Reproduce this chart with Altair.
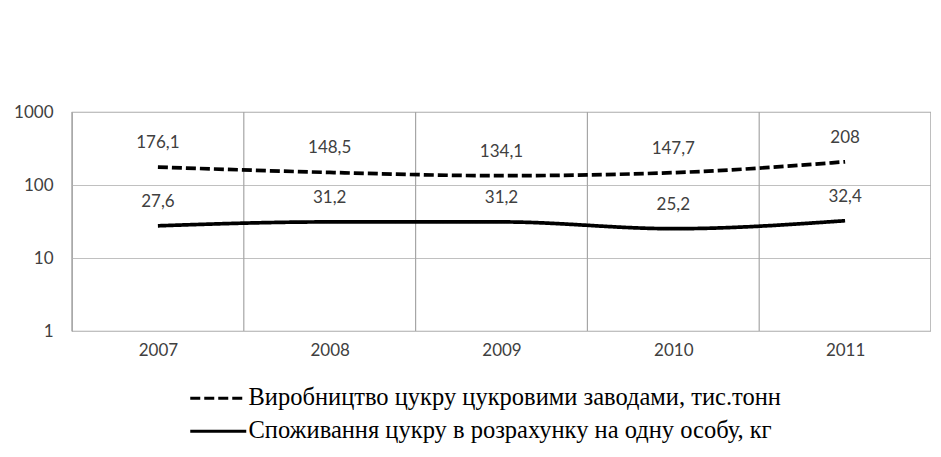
import altair as alt
import pandas as pd

years = [2007, 2008, 2009, 2010, 2011]
production = [176.1, 148.5, 134.1, 147.7, 208]
production_labels = ["176,1", "148,5", "134,1", "147,7", "208"]
consumption = [27.6, 31.2, 31.2, 25.2, 32.4]
consumption_labels = ["27,6", "31,2", "31,2", "25,2", "32,4"]
series_names = [
    "Виробництво цукру цукровими заводами, тис.тонн",
    "Споживання цукру в розрахунку на одну особу, кг",
]
y_ticks = [1, 10, 100, 1000]

rows = []
for yr, v, lab in zip(years, production, production_labels):
    rows.append({"year": yr, "value": v, "label": lab, "series": series_names[0]})
for yr, v, lab in zip(years, consumption, consumption_labels):
    rows.append({"year": yr, "value": v, "label": lab, "series": series_names[1]})
df = pd.DataFrame(rows)

bounds = pd.DataFrame({"b": [years[0] - 0.5] + [yr + 0.5 for yr in years]})

x_scale = alt.Scale(domain=[years[0] - 0.5, years[-1] + 0.5], nice=False, zero=False)
y_scale = alt.Scale(type="log", domain=[1, 1000], nice=False)

x_axis = alt.Axis(values=years, format="d", title=None, grid=False, ticks=False,
                  domain=False, labelFont="Lato", labelFontSize=17,
                  labelColor="#404040", labelPadding=11)
y_axis = alt.Axis(values=y_ticks, format="d", title=None, grid=True,
                  gridColor="#c0c0c0", gridWidth=1, ticks=False, domain=False,
                  labelFont="Lato", labelFontSize=17, labelColor="#404040",
                  labelPadding=19)

vgrid = alt.Chart(bounds).mark_rule(color="#a6a6a6", strokeWidth=1.2).encode(
    x=alt.X("b:Q", scale=x_scale, axis=x_axis)
)

lines = alt.Chart(df).mark_line(color="black", strokeWidth=3.7, interpolate="monotone").encode(
    x=alt.X("year:Q", scale=x_scale, axis=x_axis),
    y=alt.Y("value:Q", scale=y_scale, axis=y_axis),
    strokeDash=alt.StrokeDash(
        "series:N",
        scale=alt.Scale(domain=series_names, range=[[10, 4], [1, 0]]),
        legend=alt.Legend(
            title=None, orient="none", legendX=134, legendY=274,
            direction="vertical", symbolType="M-4,0H4", symbolSize=196,
            symbolStrokeWidth=3, symbolStrokeColor="black",
            labelFont="Liberation Serif", labelFontSize=24.5, labelColor="black",
            labelLimit=0, rowPadding=8, labelOffset=18, padding=0,
        ),
    ),
)

labels = alt.Chart(df).mark_text(dy=-24, font="Lato", fontSize=17, color="#404040").encode(
    x=alt.X("year:Q", scale=x_scale),
    y=alt.Y("value:Q", scale=y_scale),
    text="label:N",
)

chart = alt.layer(vgrid, lines, labels).properties(
    width=859, height=219,
    padding={"left": 64, "top": 104, "right": 0, "bottom": 118},
    autosize=alt.AutoSizeParams(type="none"),
    background="white",
).configure_view(stroke="#a6a6a6", strokeWidth=1.2)

chart.save("out.html", embed_options={"renderer": "svg", "actions": False})
